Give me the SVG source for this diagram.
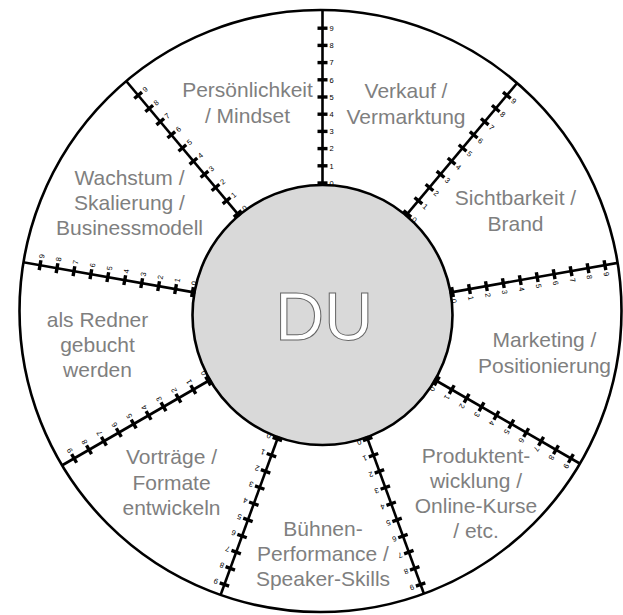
<svg xmlns="http://www.w3.org/2000/svg" xmlns:xlink="http://www.w3.org/1999/xlink" width="623" height="615" viewBox="0 0 623 615">
<style>
.lbl{font-family:"Liberation Sans",Arial,sans-serif;font-size:21px;fill:#7f7f7f;text-anchor:middle}
.num{font-family:"Liberation Sans",Arial,sans-serif;font-size:7.5px;fill:#000}
.ax{stroke:#000;stroke-width:2.6;fill:none}
.tk{fill:#000}
</style>
<defs>
<clipPath id="outerClip"><circle cx="320.5" cy="311" r="301"/></clipPath>
<g id="spoke">
<line class="ax" x1="322.5" y1="186" x2="322.5" y2="3"/>
<rect class="tk" x="317.5" y="181.3" width="10" height="3.4"/>
<rect class="tk" x="317.5" y="164.1" width="10" height="3.4"/>
<rect class="tk" x="317.5" y="146.9" width="10" height="3.4"/>
<rect class="tk" x="317.5" y="129.7" width="10" height="3.4"/>
<rect class="tk" x="317.5" y="112.5" width="10" height="3.4"/>
<rect class="tk" x="317.5" y="95.3" width="10" height="3.4"/>
<rect class="tk" x="317.5" y="78.1" width="10" height="3.4"/>
<rect class="tk" x="317.5" y="60.9" width="10" height="3.4"/>
<rect class="tk" x="317.5" y="43.7" width="10" height="3.4"/>
<rect class="tk" x="317.5" y="26.5" width="10" height="3.4"/>
<text class="num" x="329.5" y="185.7">0</text>
<text class="num" x="329.5" y="168.5">1</text>
<text class="num" x="329.5" y="151.3">2</text>
<text class="num" x="329.5" y="134.1">3</text>
<text class="num" x="329.5" y="116.9">4</text>
<text class="num" x="329.5" y="99.7">5</text>
<text class="num" x="329.5" y="82.5">6</text>
<text class="num" x="329.5" y="65.3">7</text>
<text class="num" x="329.5" y="48.1">8</text>
<text class="num" x="329.5" y="30.9">9</text>
</g>
</defs>
<rect width="623" height="615" fill="#fff"/>
<circle id="outer" cx="320.5" cy="311" r="301" fill="#fff" stroke="#000" stroke-width="2.6"/>

<g id="persoenlichkeit" class="lbl"><text x="247.5" y="97">Persönlichkeit</text><text x="247.5" y="123">/ Mindset</text></g>
<g id="verkauf" class="lbl"><text x="406" y="98">Verkauf /</text><text x="406" y="124">Vermarktung</text></g>
<g id="sichtbarkeit" class="lbl"><text x="515.5" y="205">Sichtbarkeit /</text><text x="515.5" y="231">Brand</text></g>
<g id="marketing" class="lbl"><text x="544.5" y="347">Marketing /</text><text x="544.5" y="373">Positionierung</text></g>
<g id="produkt" class="lbl"><text x="476" y="463">Produktent-</text><text x="476" y="488">wicklung /</text><text x="476" y="513">Online-Kurse</text><text x="476" y="538">/ etc.</text></g>
<g id="buehne" class="lbl"><text x="323" y="536">Bühnen-</text><text x="323" y="561">Performance /</text><text x="323" y="586">Speaker-Skills</text></g>
<g id="vortraege" class="lbl"><text x="171.5" y="464">Vorträge /</text><text x="171.5" y="490">Formate</text><text x="171.5" y="515">entwickeln</text></g>
<g id="redner" class="lbl"><text x="97.5" y="327">als Redner</text><text x="97.5" y="352">gebucht</text><text x="97.5" y="377">werden</text></g>
<g id="wachstum" class="lbl"><text x="129.5" y="185">Wachstum /</text><text x="129.5" y="210">Skalierung /</text><text x="129.5" y="235">Businessmodell</text></g>

<g id="du">
<circle cx="322.5" cy="315" r="130" fill="#d9d9d9" stroke="#000" stroke-width="2.6"/>
</g>

<g id="scales" clip-path="url(#outerClip)">
<use xlink:href="#spoke"/>
<use xlink:href="#spoke" transform="rotate(40 322.5 315)"/>
<use xlink:href="#spoke" transform="rotate(80 322.5 315)"/>
<use xlink:href="#spoke" transform="rotate(120 322.5 315)"/>
<use xlink:href="#spoke" transform="rotate(160 322.5 315)"/>
<use xlink:href="#spoke" transform="rotate(200 322.5 315)"/>
<use xlink:href="#spoke" transform="rotate(240 322.5 315)"/>
<use xlink:href="#spoke" transform="rotate(280 322.5 315)"/>
<use xlink:href="#spoke" transform="rotate(320 322.5 315)"/>
</g>

<text id="du-label" x="324" y="340" font-family="'Liberation Sans',Arial,sans-serif" font-size="68" fill="#fff" stroke="#666" stroke-width="1" text-anchor="middle">DU</text>
</svg>
